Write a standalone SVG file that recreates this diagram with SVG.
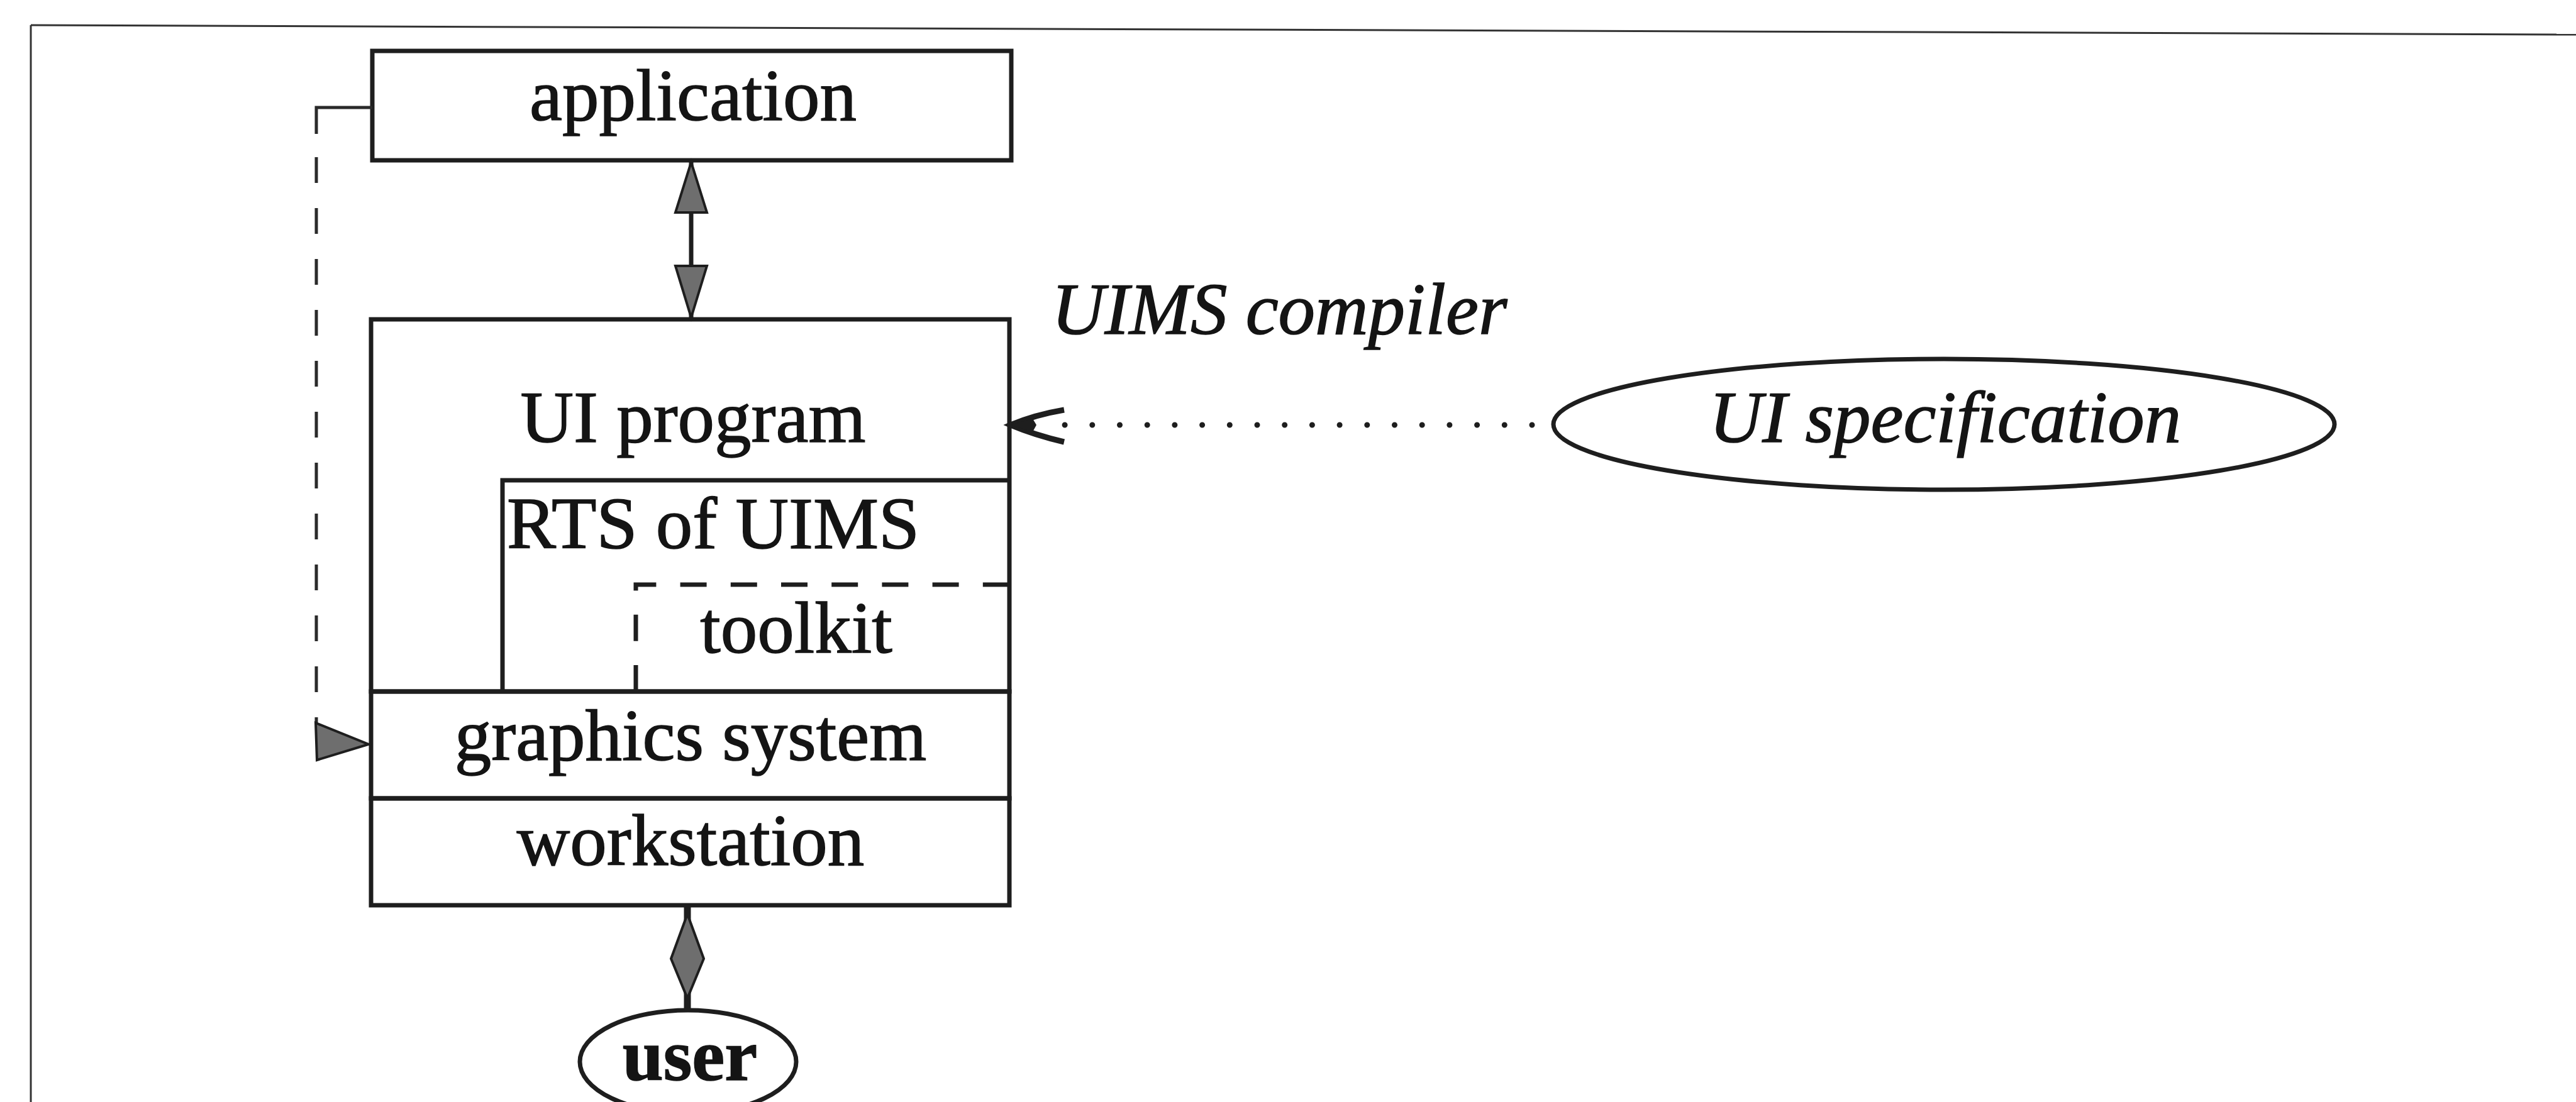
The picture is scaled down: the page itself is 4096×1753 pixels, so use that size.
<svg xmlns="http://www.w3.org/2000/svg" width="4096" height="1753" viewBox="0 0 4096 1753">
  <style>
    .box { fill: none; stroke: #1e1e1e; stroke-width: 7; }
    .thin { fill: none; stroke: #333333; stroke-width: 3; }
    .lbl { font-family: "Liberation Serif", "Times New Roman", serif; font-size: 117px; fill: #141414; stroke: #141414; stroke-width: 1.5; text-anchor: middle; }
    .it { font-style: italic; }
    .bold { font-weight: bold; }
    .head { fill: #6e6e6e; stroke: #1e1e1e; stroke-width: 4; stroke-linejoin: miter; }
  </style>
  <rect width="4096" height="1753" fill="#ffffff"/>

  <!-- page frame (top and left edges) -->
  <g id="frame">
    <line class="thin" x1="49" y1="40" x2="4096" y2="55"/>
    <line class="thin" x1="49" y1="40" x2="49" y2="1753"/>
  </g>

  <g id="application">
    <rect class="box" x="592" y="81" width="1016" height="174"/>
    <text class="lbl" x="1102" y="191">application</text>
  </g>

  <g id="ui-program">
    <rect class="box" x="590" y="508" width="1015" height="592"/>
    <text class="lbl" x="1102" y="703">UI program</text>
  </g>

  <g id="rts-of-uims">
    <path class="box" d="M799,1100 V764 H1605"/>
    <text class="lbl" x="806" y="872" style="text-anchor:start">RTS of UIMS</text>
  </g>

  <g id="toolkit">
    <path class="box" d="M1011,1100 V930 H1605" stroke-dasharray="42 38.2"/>
    <text class="lbl" x="1266" y="1038">toolkit</text>
  </g>

  <g id="graphics-system">
    <rect class="box" x="590" y="1100" width="1015" height="170"/>
    <text class="lbl" x="1098" y="1209">graphics system</text>
  </g>

  <g id="workstation">
    <rect class="box" x="590" y="1270" width="1015" height="170"/>
    <text class="lbl" x="1098" y="1376">workstation</text>
  </g>

  <g id="user">
    <ellipse class="box" cx="1094" cy="1689" rx="172" ry="82"/>
    <text class="lbl bold" x="1097" y="1718">user</text>
  </g>

  <g id="ui-specification">
    <ellipse class="box" cx="3091" cy="675" rx="621" ry="104"/>
    <text class="lbl it" x="3093" y="703">UI specification</text>
  </g>

  <g id="connectors">
    <!-- application <-> UI program -->
    <line x1="1099" y1="255" x2="1099" y2="508" stroke="#1e1e1e" stroke-width="7"/>
    <polygon class="head" points="1099,258 1124,338 1074,338"/>
    <polygon class="head" points="1099,505 1124,423 1074,423"/>

    <!-- workstation <-> user -->
    <line x1="1093" y1="1440" x2="1093" y2="1607" stroke="#1e1e1e" stroke-width="11"/>
    <polygon class="head" points="1093,1454 1119,1525 1093,1588 1067,1525"/>

    <!-- UI specification ..> UI program (UIMS compiler) -->
    <line x1="2436" y1="676" x2="1693" y2="676" stroke="#1e1e1e" stroke-width="9" stroke-linecap="round" stroke-dasharray="0 43.7"/>
    <path d="M1692,652 Q1645,660 1607,676 Q1645,692 1692,703" fill="none" stroke="#1e1e1e" stroke-width="9" stroke-linejoin="miter"/>
    <polygon points="1607,676 1642,666 1648,676 1642,687" fill="#1e1e1e"/>
    <text class="lbl it" x="1672" y="531" style="text-anchor:start">UIMS compiler</text>

    <!-- application - - > graphics system -->
    <path d="M592,171 H503 V213" fill="none" stroke="#2a2a2a" stroke-width="5"/>
    <line x1="503" y1="250" x2="503" y2="1150" stroke="#2a2a2a" stroke-width="5" stroke-dasharray="41 40"/>
    <polygon class="head" points="502,1150 586,1184 504,1209"/>
  </g>
</svg>
